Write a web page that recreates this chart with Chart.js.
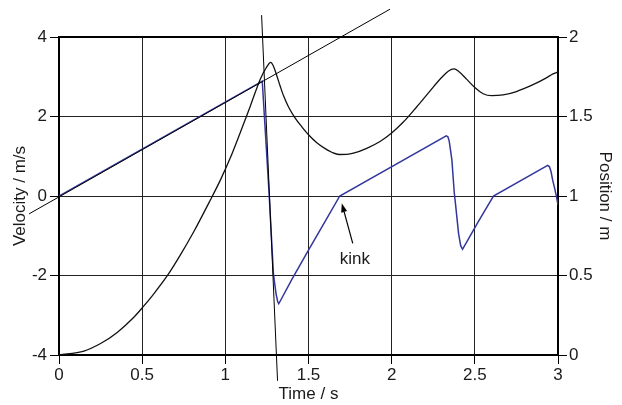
<!DOCTYPE html>
<html>
<head>
<meta charset="utf-8">
<script src="https://cdn.jsdelivr.net/npm/chart.js@4/dist/chart.umd.min.js"></script>
<style>
html,body{margin:0;padding:0;background:#fff;}
#wrap{width:622px;height:405px;position:relative;}
</style>
</head>
<body>
<div id="wrap"><canvas id="c" width="622" height="405"></canvas></div>
<script>
// ---- data ----
const posTime = [0, 0.15, 0.25, 0.35, 0.45, 0.5, 0.57, 0.65, 0.73, 0.81, 0.91, 0.97, 1.03, 1.09, 1.15, 1.21, 1.245, 1.273, 1.29, 1.31, 1.33, 1.35, 1.38, 1.42, 1.46, 1.50, 1.55, 1.60, 1.64, 1.684, 1.73, 1.77, 1.85, 1.93, 2.00, 2.07, 2.15, 2.23, 2.30, 2.34, 2.376, 2.40, 2.45, 2.50, 2.55, 2.60, 2.67, 2.75, 2.85, 2.93, 2.97, 3.00];
const position = [0, 0.025, 0.072, 0.142, 0.237, 0.296, 0.385, 0.497, 0.630, 0.775, 0.975, 1.10, 1.24, 1.40, 1.565, 1.735, 1.805, 1.841, 1.815, 1.755, 1.69, 1.63, 1.56, 1.49, 1.435, 1.385, 1.335, 1.298, 1.275, 1.261, 1.262, 1.269, 1.30, 1.343, 1.396, 1.465, 1.56, 1.66, 1.745, 1.785, 1.799, 1.786, 1.735, 1.682, 1.643, 1.631, 1.636, 1.657, 1.70, 1.743, 1.768, 1.78];

const velTime = [0, 1.222, 1.243, 1.264, 1.289, 1.305, 1.315, 1.321, 1.328, 1.40, 1.50, 1.60, 1.688, 2.328, 2.338, 2.346, 2.362, 2.376, 2.385, 2.402, 2.415, 2.426, 2.437, 2.52, 2.612, 2.938, 2.948, 2.958, 2.968, 2.980, 2.991, 3.00];
const velocity = [0, 2.89, 1.45, 0, -1.95, -2.46, -2.66, -2.71, -2.66, -2.10, -1.36, -0.64, 0, 1.515, 1.49, 1.38, 0.91, 0.10, -0.25, -0.94, -1.25, -1.34, -1.26, -0.65, 0, 0.77, 0.74, 0.615, 0.40, 0.19, -0.02, -0.22];

const tangentSlowTime = [-0.18, 1.99];
const tangentSlowVel = [-0.45, 4.70];
const tangentSteepTime = [1.218, 1.314];
const tangentSteepVel = [4.55, -4.65];

const xTickValues = [0, 0.5, 1, 1.5, 2, 2.5, 3];
const xTickLabels = ['0', '0.5', '1', '1.5', '2', '2.5', '3'];
const yTickValues = [-4, -2, 0, 2, 4];
const yTickLabels = ['-4', '-2', '0', '2', '4'];
const y1TickValues = [0, 0.5, 1, 1.5, 2];
const y1TickLabels = ['0', '0.5', '1', '1.5', '2'];

const kinkNote = {text: 'kink', textT: 1.779, textV: -1.60, tailT: 1.766, tailV: -1.19, headT: 1.700, headV: -0.18};

// ---- helpers ----
const pts = (xs, ys) => xs.map((x, i) => ({x: x, y: ys[i]}));
const FONT = "'Liberation Sans', Arial, Helvetica, sans-serif";
const INK = '#1a1a1a';
const BLUE = '#33379c';

const frame = {
  id: 'frame',
  beforeDatasetsDraw(chart) {
    const {ctx, chartArea: a} = chart;
    ctx.save();
    ctx.strokeStyle = '#000';
    ctx.lineWidth = 2;
    ctx.strokeRect(a.left, a.top, a.right - a.left, a.bottom - a.top);
    ctx.restore();
  },
  afterDatasetsDraw(chart) {
    const {ctx, scales} = chart;
    const x = scales.x, y = scales.y;
    const tx = x.getPixelForValue(kinkNote.tailT), ty = y.getPixelForValue(kinkNote.tailV);
    const hx = x.getPixelForValue(kinkNote.headT), hy = y.getPixelForValue(kinkNote.headV);
    ctx.save();
    ctx.strokeStyle = '#000';
    ctx.fillStyle = '#000';
    ctx.lineWidth = 1.2;
    const ang = Math.atan2(hy - ty, hx - tx);
    const L = 9, W = 3;
    const bx = hx - L * Math.cos(ang), by = hy - L * Math.sin(ang);
    ctx.beginPath();
    ctx.moveTo(tx, ty);
    ctx.lineTo(bx, by);
    ctx.stroke();
    ctx.beginPath();
    ctx.moveTo(hx, hy);
    ctx.lineTo(bx + W * Math.sin(ang), by - W * Math.cos(ang));
    ctx.lineTo(bx - W * Math.sin(ang), by + W * Math.cos(ang));
    ctx.closePath();
    ctx.fill();
    ctx.font = "17px " + FONT;
    ctx.fillStyle = INK;
    ctx.textAlign = 'center';
    ctx.textBaseline = 'middle';
    ctx.fillText(kinkNote.text, x.getPixelForValue(kinkNote.textT), y.getPixelForValue(kinkNote.textV));
    ctx.restore();
  }
};

const setTicks = (values) => (s) => { s.ticks = values.map(v => ({value: v})); };
const labelFrom = (values, labels) => (val) => { const i = values.indexOf(val); return i >= 0 ? labels[i] : ''; };

new Chart(document.getElementById('c').getContext('2d'), {
  type: 'scatter',
  data: {
    datasets: [
      {data: pts(tangentSlowTime, tangentSlowVel), yAxisID: 'y', showLine: true, borderColor: '#000', borderWidth: 1, pointRadius: 0, clip: false},
      {data: pts(tangentSteepTime, tangentSteepVel), yAxisID: 'y', showLine: true, borderColor: '#000', borderWidth: 1, pointRadius: 0, clip: false},
      {data: pts(posTime, position), yAxisID: 'y1', showLine: true, borderColor: '#111', borderWidth: 1.3, pointRadius: 0, cubicInterpolationMode: 'monotone'},
      {data: pts(velTime, velocity), yAxisID: 'y', showLine: true, borderColor: BLUE, borderWidth: 1.5, pointRadius: 0, tension: 0}
    ]
  },
  options: {
    responsive: false,
    animation: false,
    events: [],
    layout: {padding: {top: 37, left: 0, right: 0, bottom: 0}},
    plugins: {legend: {display: false}, tooltip: {enabled: false}},
    scales: {
      x: {
        type: 'linear', position: 'bottom', min: 0, max: 3,
        afterBuildTicks: setTicks(xTickValues),
        afterFit: (s) => { s.height = 50; },
        ticks: {font: {family: FONT, size: 17}, color: INK, padding: 1, maxRotation: 0, callback: labelFrom(xTickValues, xTickLabels)},
        grid: {color: '#222', lineWidth: 1, tickLength: 9, tickColor: '#000'},
        border: {display: false},
        title: {display: true, text: 'Time / s', font: {family: FONT, size: 17}, color: INK, padding: {top: 0, bottom: 0}}
      },
      y: {
        type: 'linear', position: 'left', min: -4, max: 4,
        afterBuildTicks: setTicks(yTickValues),
        afterFit: (s) => { s.width = 59; },
        ticks: {font: {family: FONT, size: 17}, color: INK, padding: 3, callback: labelFrom(yTickValues, yTickLabels)},
        grid: {color: '#222', lineWidth: 1, tickLength: 9, tickColor: '#000'},
        border: {display: false},
        title: {display: true, text: 'Velocity / m/s', font: {family: FONT, size: 17}, color: INK, padding: {top: 10, bottom: 0}}
      },
      y1: {
        type: 'linear', position: 'right', min: 0, max: 2,
        afterBuildTicks: setTicks(y1TickValues),
        afterFit: (s) => { s.width = 64; },
        ticks: {font: {family: FONT, size: 17}, color: INK, padding: 2, callback: labelFrom(y1TickValues, y1TickLabels)},
        grid: {drawOnChartArea: false, color: '#000', lineWidth: 1, tickLength: 9, tickColor: '#000'},
        border: {display: false},
        title: {display: true, text: 'Position / m', font: {family: FONT, size: 17}, color: INK, padding: {top: 7, bottom: 0}}
      }
    }
  },
  plugins: [frame]
});
</script>
</body>
</html>
